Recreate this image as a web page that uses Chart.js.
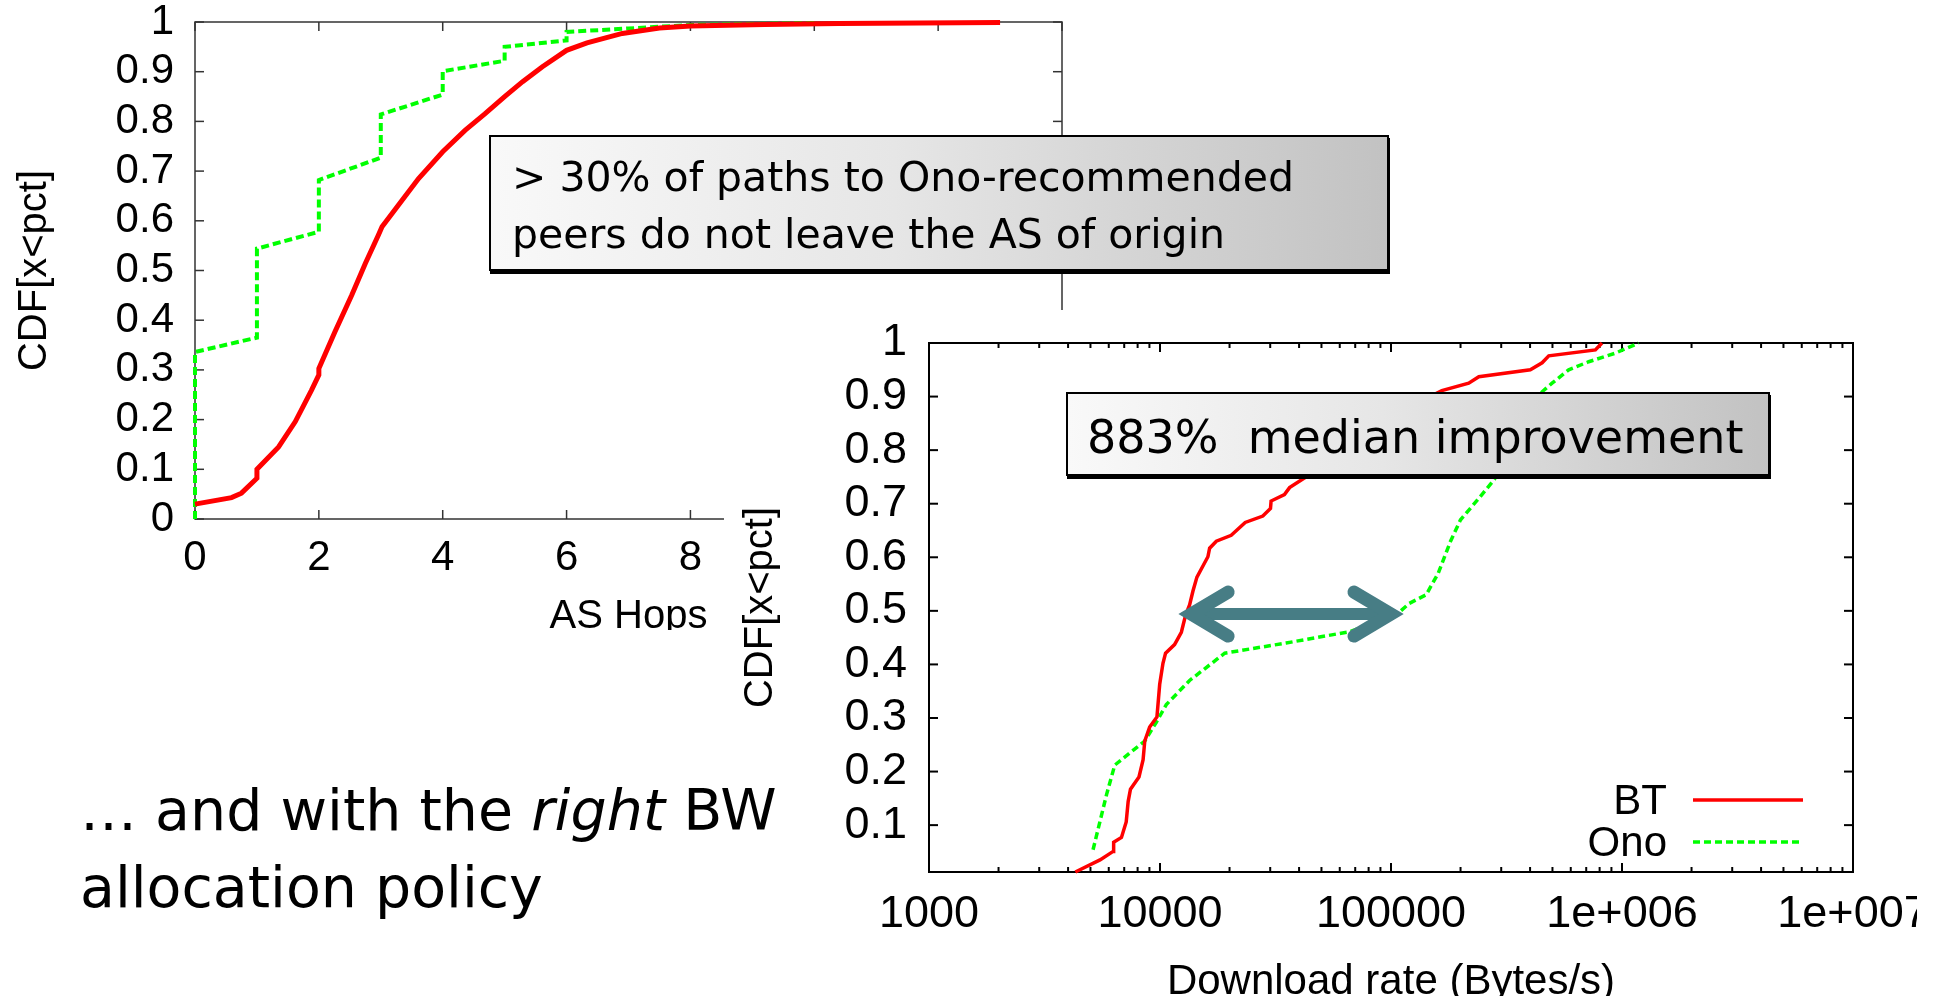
<!DOCTYPE html>
<html>
<head>
<meta charset="utf-8">
<script src="https://cdn.jsdelivr.net/npm/chart.js@4.4.0/dist/chart.umd.min.js"></script>
<style>
  html, body { margin: 0; padding: 0; width: 1934px; height: 996px; overflow: hidden; background: #fff; }
  .clip { position: absolute; overflow: hidden; background: #fff; }
  #wrap1 { left: 0; top: 0; width: 1100px; height: 630px; z-index: 1; }
  #wrap2 { left: 724px; top: 310px; width: 1193px; height: 686px; z-index: 2; }
  .box {
    position: absolute; box-sizing: border-box; z-index: 3;
    border: 2px solid #000; box-shadow: 1px 3px 0 #000;
    background: linear-gradient(to right, #f9f9f9, #e6e6e6 45%, #c2c2c2);
    font-family: "DejaVu Sans", sans-serif; color: #000; white-space: nowrap;
  }
  #box1 { left: 489px; top: 135px; width: 900px; height: 136px; font-size: 41px; line-height: 56.6px; padding: 12px 0 0 21px; }
  #box2 { left: 1066px; top: 392px; width: 704px; height: 84px; font-size: 46px; line-height: 54px; padding: 16px 0 0 19px; }
  #note { position: absolute; left: 80px; top: 772px; z-index: 4; font-family: "DejaVu Sans", sans-serif; font-size: 57px; line-height: 76.7px; color: #000; white-space: nowrap; }
</style>
</head>
<body>
<div class="clip" id="wrap1"><canvas id="hopsChart" width="1100" height="660"></canvas></div>
<div class="clip" id="wrap2"><canvas id="rateChart" width="1260" height="720"></canvas></div>
<div class="box" id="box1">&gt; 30% of paths to Ono-recommended<br>peers do not leave the AS of origin</div>
<div class="box" id="box2">883%&nbsp; median improvement</div>
<div id="note">… and with the <i>right</i> BW<br>allocation policy</div>
<script>
// AS hops CDF (left chart)
const btHops = [0, 0.59, 0.75, 1.0, 1.0, 1.35, 1.62, 1.88, 2.0, 2.0, 2.26, 2.53, 2.75, 2.96, 3.02, 3.28, 3.61, 4.0, 4.36, 4.68, 5.0, 5.29, 5.61, 6.0, 6.33, 6.9, 7.5, 8.0, 9.2, 10.4, 13.0];
const btHopsCdf = [0.03, 0.043, 0.052, 0.082, 0.10, 0.145, 0.196, 0.259, 0.29, 0.303, 0.377, 0.45, 0.514, 0.571, 0.588, 0.631, 0.685, 0.739, 0.782, 0.815, 0.85, 0.88, 0.91, 0.943, 0.958, 0.977, 0.988, 0.992, 0.995, 0.997, 0.999];
const onoHops = [0, 0, 1, 1, 2, 2, 3, 3, 4, 4, 5, 5, 6, 6, 7, 8, 10];
const onoHopsCdf = [0, 0.336, 0.365, 0.544, 0.578, 0.682, 0.727, 0.814, 0.854, 0.901, 0.922, 0.95, 0.963, 0.98, 0.987, 0.994, 0.998];
const hopTicks = [0, 2, 4, 6, 8, 10, 12, 14];
const cdfTicks = [0, 0.1, 0.2, 0.3, 0.4, 0.5, 0.6, 0.7, 0.8, 0.9, 1];

// Download rate CDF (right chart)
const btRate = [4300, 5500, 6270, 6300, 6810, 7140, 7280, 7450, 8110, 8450, 8590, 9020, 9700, 9970, 10300, 10570, 11560, 12370, 12910, 13430, 13890, 14450, 16120, 16400, 17530, 20340, 23380, 27870, 30080, 30260, 34570, 36380, 41520, 60000, 100000, 140000, 166000, 217000, 240000, 401000, 451000, 482000, 767000, 819000];
const btRateCdf = [0.0125, 0.035, 0.051, 0.068, 0.077, 0.106, 0.144, 0.167, 0.19, 0.222, 0.257, 0.283, 0.302, 0.363, 0.402, 0.421, 0.437, 0.46, 0.492, 0.511, 0.537, 0.563, 0.601, 0.617, 0.63, 0.641, 0.665, 0.677, 0.691, 0.705, 0.717, 0.73, 0.746, 0.79, 0.85, 0.895, 0.911, 0.925, 0.937, 0.95, 0.963, 0.976, 0.987, 1.0];
const onoRate = [5130, 5870, 6370, 8590, 9640, 10650, 13430, 16400, 19060, 35160, 66070, 105000, 120000, 142000, 160000, 181000, 200000, 240000, 280000, 330000, 390000, 451000, 498000, 588000, 717000, 936000, 1180000];
const onoRateCdf = [0.054, 0.157, 0.212, 0.257, 0.292, 0.325, 0.37, 0.399, 0.421, 0.44, 0.461, 0.492, 0.514, 0.53, 0.57, 0.63, 0.67, 0.71, 0.745, 0.8, 0.86, 0.909, 0.925, 0.95, 0.965, 0.981, 1.0];
const rateTicks = [1000, 10000, 100000, 1000000, 10000000];
const rateTickLabels = ["1000", "10000", "100000", "1e+006", "1e+007"];
const rateCdfTicks = [0.1, 0.2, 0.3, 0.4, 0.5, 0.6, 0.7, 0.8, 0.9, 1];
const medianArrow = { from: 12100, to: 112700, cdf: 0.494 };

const pts = (xs, ys) => xs.map((x, i) => ({ x: x, y: ys[i] }));
const axisFont = (size) => ({ family: "'Liberation Sans', Arial, sans-serif", size: size });

// keep the plot box exactly where layout.padding puts it
const noPadY = (w) => (s) => { s.width = w; s.paddingTop = 0; s.paddingBottom = 0; };
const noPadX = (h) => (s) => { s.height = h; s.paddingLeft = 0; s.paddingRight = 0; };

// gnuplot-like frame with inward ticks on all four sides
const framePlugin = {
  id: "frame",
  beforeDatasetsDraw(chart, args, opts) {
    const { ctx, chartArea: a, scales } = chart;
    const line = (x1, y1, x2, y2) => { ctx.beginPath(); ctx.moveTo(x1, y1); ctx.lineTo(x2, y2); ctx.stroke(); };
    ctx.save();
    ctx.strokeStyle = opts.color;
    ctx.lineWidth = opts.lineWidth;
    ctx.strokeRect(a.left, a.top, a.right - a.left, a.bottom - a.top);
    scales.x.ticks.forEach((t) => {
      const px = scales.x.getPixelForValue(t.value);
      line(px, a.bottom, px, a.bottom - opts.major);
      line(px, a.top, px, a.top + opts.major);
    });
    scales.y.ticks.forEach((t) => {
      const py = scales.y.getPixelForValue(t.value);
      line(a.left, py, a.left + opts.major, py);
      line(a.right, py, a.right - opts.major, py);
    });
    if (opts.logMinor) {
      const vals = scales.x.ticks.map((t) => t.value);
      for (let i = 0; i < vals.length - 1; i++) {
        for (let m = 2; m <= 9; m++) {
          const px = scales.x.getPixelForValue(vals[i] * m);
          line(px, a.bottom, px, a.bottom - opts.minor);
          line(px, a.top, px, a.top + opts.minor);
        }
      }
    }
    ctx.restore();
  }
};

// legend inside the plot and the median double arrow
const overlayPlugin = {
  id: "overlay",
  afterDatasetsDraw(chart, args, opts) {
    const { ctx, chartArea: a, scales } = chart;
    ctx.save();
    if (opts.legend) {
      ctx.font = "42px 'Liberation Sans', Arial, sans-serif";
      ctx.textAlign = "right";
      ctx.textBaseline = "middle";
      ctx.fillStyle = "#000";
      chart.data.datasets.forEach((ds, i) => {
        const y = a.bottom - opts.legend.fromBottom + i * opts.legend.step;
        ctx.fillText(ds.label, a.right - opts.legend.textRight, y + 2);
        ctx.strokeStyle = ds.borderColor;
        ctx.lineWidth = ds.borderWidth;
        ctx.setLineDash(ds.borderDash || []);
        ctx.beginPath();
        ctx.moveTo(a.right - opts.legend.lineStart, y);
        ctx.lineTo(a.right - opts.legend.lineEnd, y);
        ctx.stroke();
      });
      ctx.setLineDash([]);
    }
    if (opts.arrow) {
      const y = scales.y.getPixelForValue(opts.arrow.cdf);
      const x1 = scales.x.getPixelForValue(opts.arrow.from);
      const x2 = scales.x.getPixelForValue(opts.arrow.to);
      ctx.strokeStyle = "#477d85";
      ctx.lineWidth = 12;
      ctx.beginPath();
      ctx.moveTo(x1 + 12, y);
      ctx.lineTo(x2 - 12, y);
      ctx.stroke();
      ctx.lineWidth = 13;
      ctx.lineCap = "round";
      ctx.lineJoin = "miter";
      ctx.beginPath();
      ctx.moveTo(x1 + 49, y - 22);
      ctx.lineTo(x1 + 12, y);
      ctx.lineTo(x1 + 49, y + 22);
      ctx.stroke();
      ctx.beginPath();
      ctx.moveTo(x2 - 49, y - 22);
      ctx.lineTo(x2 - 12, y);
      ctx.lineTo(x2 - 49, y + 22);
      ctx.stroke();
    }
    ctx.restore();
  }
};

new Chart(document.getElementById("hopsChart").getContext("2d"), {
  type: "scatter",
  data: {
    datasets: [
      { label: "BT", data: pts(btHops, btHopsCdf), showLine: true, borderColor: "#ff0000", borderWidth: 5, pointRadius: 0, clip: false },
      { label: "Ono", data: pts(onoHops, onoHopsCdf), showLine: true, borderColor: "#00ff00", borderWidth: 4, borderDash: [8, 4], pointRadius: 0, clip: false }
    ]
  },
  options: {
    responsive: false,
    animation: false,
    devicePixelRatio: 1,
    layout: { padding: { top: 22, right: 38, left: 0, bottom: 0 } },
    plugins: {
      legend: { display: false },
      tooltip: { enabled: false },
      frame: { color: "#333", lineWidth: 1.5, major: 9 }
    },
    scales: {
      x: {
        type: "linear", min: 0, max: 14,
        afterBuildTicks: (s) => { s.ticks = hopTicks.map((v) => ({ value: v })); },
        afterFit: noPadX(141),
        ticks: { color: "#000", font: axisFont(42), padding: 14, maxRotation: 0, autoSkip: false, callback: (v) => String(v) },
        grid: { display: false, drawTicks: false },
        border: { display: false },
        title: { display: true, text: "AS Hops", color: "#000", font: axisFont(40), padding: { top: 0, bottom: 19 } }
      },
      y: {
        min: 0, max: 1,
        afterBuildTicks: (s) => { s.ticks = cdfTicks.map((v) => ({ value: v })); },
        afterFit: noPadY(195),
        ticks: { color: "#000", font: axisFont(42), padding: 21, autoSkip: false, callback: (v) => String(v) },
        grid: { display: false, drawTicks: false },
        border: { display: false },
        title: { display: true, text: "CDF[x<pct]", color: "#000", font: axisFont(40), padding: { top: 11, bottom: 0 } }
      }
    }
  },
  plugins: [framePlugin]
});

new Chart(document.getElementById("rateChart").getContext("2d"), {
  type: "scatter",
  data: {
    datasets: [
      { label: "BT", data: pts(btRate, btRateCdf), showLine: true, borderColor: "#ff0000", borderWidth: 3.5, pointRadius: 0, clip: false },
      { label: "Ono", data: pts(onoRate, onoRateCdf), showLine: true, borderColor: "#00ff00", borderWidth: 3.5, borderDash: [7, 4], pointRadius: 0, clip: false }
    ]
  },
  options: {
    responsive: false,
    animation: false,
    devicePixelRatio: 1,
    layout: { padding: { top: 33, right: 131, left: 0, bottom: 0 } },
    plugins: {
      legend: { display: false },
      tooltip: { enabled: false },
      frame: { color: "#000", lineWidth: 2, major: 9, minor: 5, logMinor: true },
      overlay: {
        legend: { fromBottom: 72, step: 42, textRight: 186, lineStart: 160, lineEnd: 50 },
        arrow: medianArrow
      }
    },
    scales: {
      x: {
        type: "logarithmic", min: 1000, max: 10000000,
        afterBuildTicks: (s) => { s.ticks = rateTicks.map((v) => ({ value: v })); },
        afterFit: noPadX(158),
        ticks: { color: "#000", font: axisFont(45), padding: 16, maxRotation: 0, autoSkip: false, callback: (v, i) => rateTickLabels[i] },
        grid: { display: false, drawTicks: false },
        border: { display: false },
        title: { display: true, text: "Download rate (Bytes/s)", color: "#000", font: axisFont(42), padding: { top: 0, bottom: 22 } }
      },
      y: {
        min: 0.0125, max: 1,
        afterBuildTicks: (s) => { s.ticks = rateCdfTicks.map((v) => ({ value: v })); },
        afterFit: noPadY(205),
        ticks: { color: "#000", font: axisFont(45), padding: 22, autoSkip: false, callback: (v) => String(v) },
        grid: { display: false, drawTicks: false },
        border: { display: false },
        title: { display: true, text: "CDF[x<pct]", color: "#000", font: axisFont(40), padding: { top: 13, bottom: 0 } }
      }
    }
  },
  plugins: [framePlugin, overlayPlugin]
});
</script>
</body>
</html>
